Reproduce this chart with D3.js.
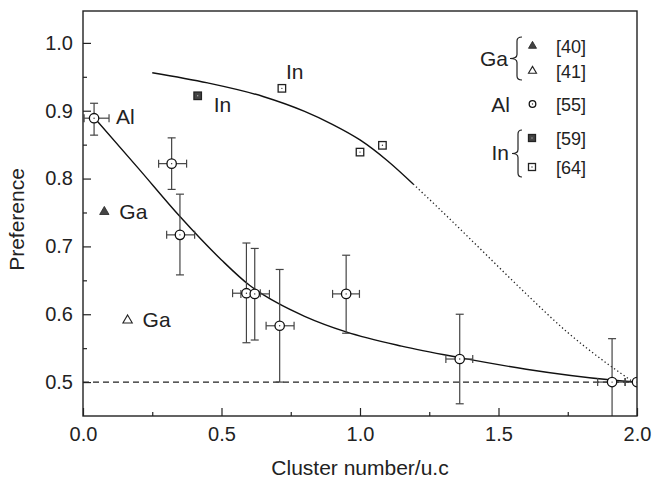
<!DOCTYPE html>
<html>
<head>
<meta charset="utf-8">
<script src="https://cdn.jsdelivr.net/npm/d3@7/dist/d3.min.js"></script>
<style>
body { margin: 0; background: #fff; }
text { font-family: "Liberation Sans", Arial, sans-serif; fill: #222; }
</style>
</head>
<body>
<svg id="chart" width="654" height="479"></svg>
<script>

// Al, ref [55] : cluster number, preference, error bounds
var alX    = [0.04, 0.32, 0.35, 0.59, 0.62, 0.71, 0.95, 1.36, 1.91, 2.0];
var alY    = [0.889, 0.822, 0.717, 0.631, 0.630, 0.583, 0.630, 0.534, 0.500, 0.500];
var alYLo  = [0.864, 0.784, 0.658, 0.558, 0.562, 0.500, 0.572, 0.468, 0.436, 0.500];
var alYHi  = [0.911, 0.860, 0.777, 0.705, 0.697, 0.666, 0.687, 0.600, 0.564, 0.500];
var alXLo  = [0.004, 0.273, 0.302, 0.540, 0.570, 0.661, 0.901, 1.310, 1.858, 1.957];
var alXHi  = [0.094, 0.374, 0.403, 0.640, 0.673, 0.762, 0.998, 1.407, 1.957, 2.043];

// Ga, refs [40] (filled) and [41] (open)
var gaX = [0.077, 0.161];
var gaY = [0.751, 0.591];

// In, refs [59] (filled) and [64] (open)
var inFilledX = [0.414];
var inFilledY = [0.922];
var inOpenX = [0.718, 1.000, 1.081];
var inOpenY = [0.933, 0.839, 0.849];

// fitted curves
var alCurveX = [0.04, 0.20, 0.35, 0.50, 0.60, 0.70, 0.80, 0.95, 1.15, 1.36, 1.60, 1.91, 2.0];
var alCurveY = [0.890, 0.815, 0.744, 0.680, 0.643, 0.617, 0.597, 0.574, 0.553, 0.536, 0.519, 0.503, 0.500];
var inSolidX = [0.25, 0.45, 0.65, 0.80, 0.90, 1.00, 1.10, 1.192];
var inSolidY = [0.956, 0.941, 0.921, 0.899, 0.880, 0.857, 0.826, 0.792];
var inDotX = [1.192, 1.30, 1.45, 1.60, 1.75, 1.90, 1.98];
var inDotY = [0.792, 0.750, 0.690, 0.630, 0.573, 0.525, 0.502];

var xTicks = [0, 0.5, 1.0, 1.5, 2.0];
var xMinor = [0.25, 0.75, 1.25, 1.75];
var yTicks = [0.5, 0.6, 0.7, 0.8, 0.9, 1.0];
var yMinor = [0.55, 0.65, 0.75, 0.85, 0.95];
var baseline = 0.5;

var plotL = 83, plotR = 637, plotT = 11, plotB = 416;

var svg = d3.select('#chart');

var x = d3.scaleLinear().domain([0, 2]).range([plotL, plotR]);
var y = d3.scaleLinear().domain([0.45, 1.047]).range([plotB, plotT]);

svg.append('defs').append('clipPath')
    .attr('id', 'plotClip')
  .append('rect')
    .attr('x', plotL).attr('y', plotT)
    .attr('width', plotR - plotL).attr('height', plotB - plotT);

// axes
svg.append('g')
    .attr('transform', 'translate(0,' + plotB + ')')
    .call(d3.axisBottom(x).tickValues(xTicks).tickSize(-8).tickPadding(11)
        .tickFormat(d3.format('.1f')));
svg.append('g')
    .attr('transform', 'translate(0,' + plotB + ')')
    .call(d3.axisBottom(x).tickValues(xMinor).tickSize(-4).tickFormat(''));

svg.append('g')
    .attr('transform', 'translate(' + plotL + ',0)')
    .call(d3.axisLeft(y).tickValues(yTicks).tickSize(-8).tickPadding(10)
        .tickFormat(d3.format('.1f')));
svg.append('g')
    .attr('transform', 'translate(' + plotL + ',0)')
    .call(d3.axisLeft(y).tickValues(yMinor).tickSize(-4).tickFormat(''));

svg.selectAll('.domain').remove();
svg.selectAll('.tick line').attr('stroke', '#222').attr('stroke-width', 1.2);
svg.selectAll('.tick text').style('font-size', '20px').attr('fill', '#222');

svg.append('text')
    .attr('x', (plotL + plotR) / 2).attr('y', 475)
    .attr('text-anchor', 'middle')
    .style('font-size', '21px')
    .text('Cluster number/u.c');

svg.append('text')
    .attr('transform', 'translate(24,' + ((plotT + plotB) / 2 + 6) + ') rotate(-90)')
    .attr('text-anchor', 'middle')
    .style('font-size', '21px')
    .text('Preference');

// baseline at 0.5
svg.append('line')
    .attr('x1', plotL).attr('x2', plotR)
    .attr('y1', y(baseline)).attr('y2', y(baseline))
    .attr('stroke', '#222').attr('stroke-width', 1.2)
    .attr('stroke-dasharray', '6,4');

// curves
var line = d3.line()
    .x(function (d) { return x(d[0]); })
    .y(function (d) { return y(d[1]); })
    .curve(d3.curveMonotoneX);

svg.append('path')
    .datum(d3.zip(alCurveX, alCurveY))
    .attr('d', line)
    .attr('fill', 'none').attr('stroke', '#111').attr('stroke-width', 1.4);

svg.append('path')
    .datum(d3.zip(inSolidX, inSolidY))
    .attr('d', line)
    .attr('fill', 'none').attr('stroke', '#111').attr('stroke-width', 1.4);

svg.append('path')
    .datum(d3.zip(inDotX, inDotY))
    .attr('d', line)
    .attr('fill', 'none').attr('stroke', '#222').attr('stroke-width', 1.3)
    .attr('stroke-dasharray', '1.3,2.6');

// Al error bars + markers
var plot = svg.append('g').attr('clip-path', 'url(#plotClip)');
var errColor = '#444';
var cap = 4;

alX.forEach(function (xv, i) {
    var g = plot.append('g');
    var cx = x(xv), cy = y(alY[i]);
    if (alYHi[i] > alYLo[i]) {
        g.append('line')
            .attr('x1', cx).attr('x2', cx)
            .attr('y1', y(alYHi[i])).attr('y2', y(alYLo[i]));
        g.append('line')
            .attr('x1', cx - cap).attr('x2', cx + cap)
            .attr('y1', y(alYHi[i])).attr('y2', y(alYHi[i]));
        g.append('line')
            .attr('x1', cx - cap).attr('x2', cx + cap)
            .attr('y1', y(alYLo[i])).attr('y2', y(alYLo[i]));
    }
    g.append('line')
        .attr('x1', x(alXLo[i])).attr('x2', x(alXHi[i]))
        .attr('y1', cy).attr('y2', cy);
    g.append('line')
        .attr('x1', x(alXLo[i])).attr('x2', x(alXLo[i]))
        .attr('y1', cy - cap).attr('y2', cy + cap);
    g.append('line')
        .attr('x1', x(alXHi[i])).attr('x2', x(alXHi[i]))
        .attr('y1', cy - cap).attr('y2', cy + cap);
    g.selectAll('line').attr('stroke', errColor).attr('stroke-width', 1.2);
});

function openCircle (parent, cx, cy, r) {
    parent.append('circle')
        .attr('cx', cx).attr('cy', cy).attr('r', r)
        .attr('fill', '#fff').attr('stroke', '#111').attr('stroke-width', 1.3);
    parent.append('circle')
        .attr('cx', cx).attr('cy', cy).attr('r', 0.7)
        .attr('fill', '#333');
}

function square (parent, cx, cy, s, filled) {
    parent.append('rect')
        .attr('x', cx - s / 2).attr('y', cy - s / 2)
        .attr('width', s).attr('height', s)
        .attr('fill', filled ? '#444' : '#fff')
        .attr('stroke', '#222').attr('stroke-width', 1.3);
    parent.append('circle')
        .attr('cx', cx).attr('cy', cy).attr('r', 0.7)
        .attr('fill', filled ? '#aaa' : '#333');
}

function triangle (parent, cx, cy, size, filled) {
    parent.append('path')
        .attr('transform', 'translate(' + cx + ',' + cy + ')')
        .attr('d', d3.symbol().type(d3.symbolTriangle).size(size)())
        .attr('fill', filled ? '#444' : '#fff')
        .attr('stroke', '#222').attr('stroke-width', filled ? 0.8 : 1.1);
}

alX.forEach(function (xv, i) {
    openCircle(plot, x(xv), y(alY[i]), 4.7);
});

gaX.forEach(function (xv, i) {
    triangle(svg, x(xv), y(gaY[i]), 38, i === 0);
});

inFilledX.forEach(function (xv, i) {
    square(svg, x(xv), y(inFilledY[i]), 7.5, true);
});
inOpenX.forEach(function (xv, i) {
    square(svg, x(xv), y(inOpenY[i]), 7.5, false);
});

// point labels
function label (px, py, txt) {
    svg.append('text')
        .attr('x', px).attr('y', py)
        .style('font-size', '21px')
        .text(txt);
}
label(x(alX[0]) + 22, y(alY[0]) + 6, 'Al');
label(x(gaX[0]) + 15, y(gaY[0]) + 7, 'Ga');
label(x(gaX[1]) + 15, y(gaY[1]) + 7, 'Ga');
label(x(inFilledX[0]) + 16, y(inFilledY[0]) + 16, 'In');
label(x(inOpenX[0]) + 4, y(inOpenY[0]) - 9, 'In');

// legend
var legend = svg.append('g');
var refs = ['[40]', '[41]', '[55]', '[59]', '[64]'];
var refY = [46, 71, 104, 138, 167];

function brace (xr, xt, y1, y2) {
    var xm = (xr + xt) / 2 + 1;
    var ym = (y1 + y2) / 2;
    var r = 4;
    return 'M' + xr + ',' + y1 +
        'Q' + xm + ',' + y1 + ' ' + xm + ',' + (y1 + r) +
        'L' + xm + ',' + (ym - r) +
        'Q' + xm + ',' + ym + ' ' + xt + ',' + ym +
        'Q' + xm + ',' + ym + ' ' + xm + ',' + (ym + r) +
        'L' + xm + ',' + (y2 - r) +
        'Q' + xm + ',' + y2 + ' ' + xr + ',' + y2;
}

legend.append('path').attr('d', brace(522, 510, 37, 80))
    .attr('fill', 'none').attr('stroke', '#222').attr('stroke-width', 1.2);
legend.append('path').attr('d', brace(522, 512, 130, 177))
    .attr('fill', 'none').attr('stroke', '#222').attr('stroke-width', 1.2);

legend.append('text').attr('x', 508).attr('y', 66)
    .attr('text-anchor', 'end').style('font-size', '21px').text('Ga');
legend.append('text').attr('x', 510).attr('y', 112)
    .attr('text-anchor', 'end').style('font-size', '21px').text('Al');
legend.append('text').attr('x', 509).attr('y', 160)
    .attr('text-anchor', 'end').style('font-size', '21px').text('In');

triangle(legend, 532.5, refY[0], 28, true);
triangle(legend, 532.5, refY[1], 28, false);
openCircle(legend, 532.5, refY[2], 3.3);
square(legend, 532, refY[3], 7, true);
square(legend, 532, refY[4], 7, false);

refs.forEach(function (t, i) {
    legend.append('text')
        .attr('x', 556).attr('y', refY[i] + 7)
        .style('font-size', '18px')
        .text(t);
});

// frame
svg.append('rect')
    .attr('x', plotL).attr('y', plotT)
    .attr('width', plotR - plotL).attr('height', plotB - plotT)
    .attr('fill', 'none').attr('stroke', '#222').attr('stroke-width', 1.4);

</script>
</body>
</html>
